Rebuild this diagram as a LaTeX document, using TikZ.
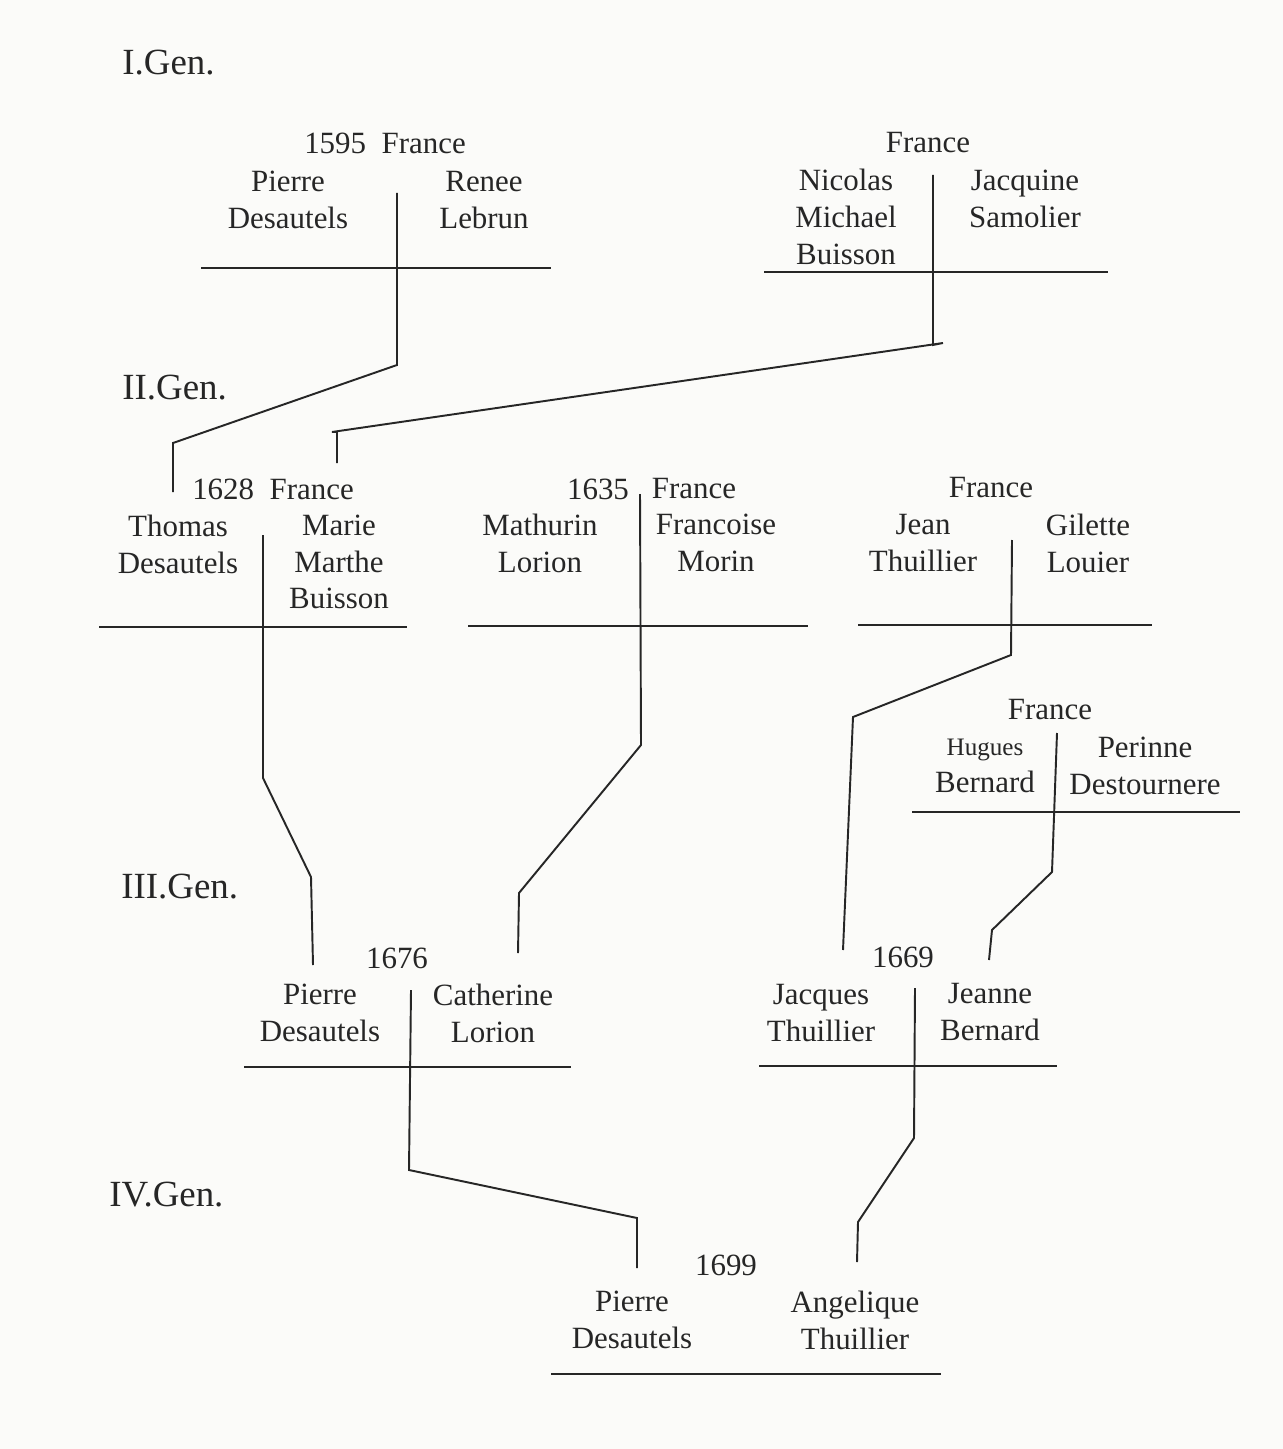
\documentclass[tikz,border=0pt]{standalone}
\usepackage{fontspec}
\setmainfont{Liberation Serif}
\usepackage{tikz}
\usetikzlibrary{positioning}
\definecolor{ink}{RGB}{38,38,38}
\definecolor{paper}{RGB}{251,251,249}

\begin{document}
\begin{tikzpicture}[
    x=0.02cm, y=-0.02cm,
    person/.style={font=\fontsize{17.6}{21}\selectfont, align=center, inner sep=0pt, text=ink},
    genlabel/.style={person, font=\fontsize{21}{25}\selectfont, anchor=west},
    wedline/.style={draw=ink, line width=1.2pt},
    kinline/.style={draw=ink, line width=1.1pt}
]
\fill[paper] (0,0) rectangle (1283,1449);
\useasboundingbox (0,0) rectangle (1283,1449);

\node[genlabel] (g1) at (122,63) {I.Gen.};
\node[genlabel] (g2) at (122,388) {II.Gen.};
\node[genlabel] (g3) at (121,887) {III.Gen.};
\node[genlabel] (g4) at (109,1195) {IV.Gen.};

\node[person] (h1) at (385,143) {1595\enspace France};
\node[person] (a1) at (288,200) {Pierre\\Desautels};
\node[person] (b1) at (484,200) {Renee\\Lebrun};
\coordinate (m1) at (397,193);
\draw[wedline] (201,268) -- (551,268);

\node[person] (h2) at (928,143) {France};
\node[person] (a2) at (846,217) {Nicolas\\Michael\\Buisson};
\node[person] (b2) at (1025,199) {Jacquine\\Samolier};
\coordinate (m2) at (933,175);
\draw[wedline] (764,272) -- (1108,272);

\node[person] (h3) at (273,489) {1628\enspace France};
\node[person] (a3) at (178,544) {Thomas\\Desautels};
\node[person] (b3) at (339,562) {Marie\\Marthe\\Buisson};
\coordinate (m3) at (263,535);
\coordinate (d3a) at (173,492);
\coordinate (d3b) at (337,463);
\draw[wedline] (99,627) -- (407,627);

\node[person] (y4) at (598,489) {1635};
\node[person] (h4) at (694,489) {France};
\node[person] (a4) at (540,543) {Mathurin\\Lorion};
\node[person] (b4) at (716,543) {Francoise\\Morin};
\coordinate (m4) at (640,494);
\draw[wedline] (468,626) -- (808,626);

\node[person] (h5) at (991,488) {France};
\node[person] (a5) at (923,543) {Jean\\Thuillier};
\node[person] (b5) at (1088,543) {Gilette\\Louier};
\coordinate (m5) at (1012,540);
\draw[wedline] (858,625) -- (1152,625);

\node[person] (h6) at (1050,710) {France};
\node[person] (a6) at (985,766) {{\fontsize{14.3}{21}\selectfont Hugues}\\Bernard};
\node[person] (b6) at (1145,766) {Perinne\\Destournere};
\coordinate (m6) at (1057,733);
\draw[wedline] (912,812) -- (1240,812);

\node[person] (h7) at (397,958) {1676};
\node[person] (a7) at (320,1013) {Pierre\\Desautels};
\node[person] (b7) at (493,1013) {Catherine\\Lorion};
\coordinate (m7) at (411,990);
\coordinate (d7a) at (313,965);
\coordinate (d7b) at (518,953);
\draw[wedline] (244,1067) -- (571,1067);

\node[person] (h8) at (903,957) {1669};
\node[person] (a8) at (821,1013) {Jacques\\Thuillier};
\node[person] (b8) at (990,1012) {Jeanne\\Bernard};
\coordinate (m8) at (915,988);
\coordinate (d8a) at (843,950);
\coordinate (d8b) at (989,960);
\draw[wedline] (759,1066) -- (1057,1066);

\node[person] (h9) at (726,1265) {1699};
\node[person] (a9) at (632,1320) {Pierre\\Desautels};
\node[person] (b9) at (855,1320) {Angelique\\Thuillier};
\coordinate (d9a) at (637,1268);
\coordinate (d9b) at (857,1262);
\draw[wedline] (551,1374) -- (941,1374);

\draw[kinline] (m1) -- (397,365) -- (173,443) -- (d3a);
\draw[kinline] (m2) -- (933,345) -- (943,343) -- (332,432) -- (337,432) -- (d3b);
\draw[kinline] (m3) -- (263,778) -- (311,877) -- (d7a);
\draw[kinline] (m4) -- (641,745) -- (519,893) -- (d7b);
\draw[kinline] (m5) -- (1011,655) -- (853,717) -- (d8a);
\draw[kinline] (m6) -- (1052,872) -- (992,930) -- (d8b);
\draw[kinline] (m7) -- (409,1170) -- (637,1218) -- (d9a);
\draw[kinline] (m8) -- (914,1138) -- (858,1222) -- (d9b);
\end{tikzpicture}
\end{document}
